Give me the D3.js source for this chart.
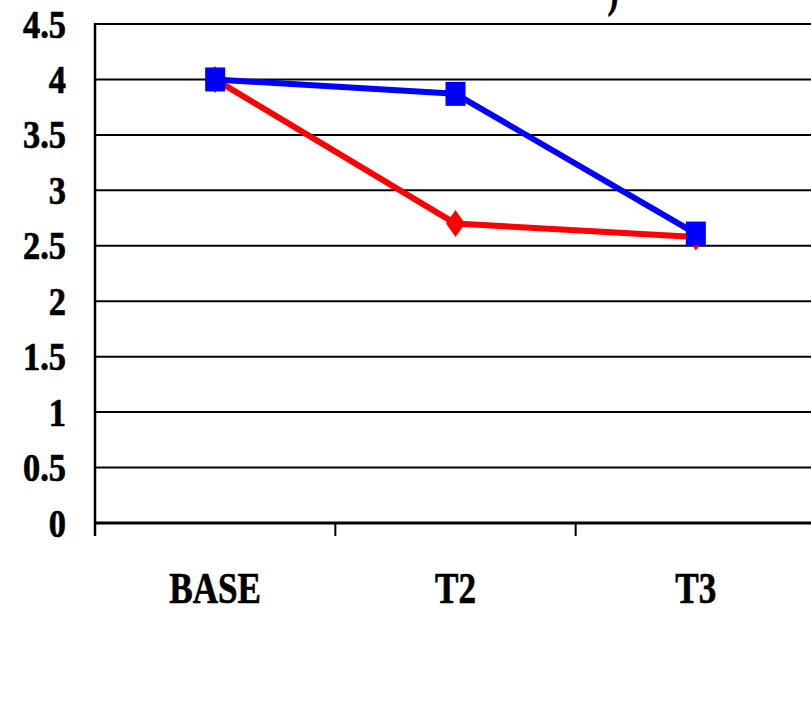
<!DOCTYPE html>
<html>
<head>
<meta charset="utf-8">
<script src="https://cdn.jsdelivr.net/npm/d3@7"></script>
<style>
  html, body { margin: 0; padding: 0; background: #fff; overflow: hidden; }
  svg { display: block; }
  text { font-family: "Liberation Serif", "Times New Roman", serif; font-weight: bold; fill: #000; stroke: #000; stroke-width: 0.7px; }
</style>
</head>
<body>
<svg id="chart" width="811" height="711"></svg>
<script>
// Data
const categories = ["BASE", "T2", "T3"];
const seriesRed = [4.0, 2.70, 2.58];
const seriesBlue = [4.0, 3.87, 2.61];
const yTicks = [0, 0.5, 1, 1.5, 2, 2.5, 3, 3.5, 4, 4.5];
const yTickLabels = ["0", "0.5", "1", "1.5", "2", "2.5", "3", "3.5", "4", "4.5"];

const svg = d3.select("#chart");

const plot = { left: 95, right: 816, top: 24, bottom: 523 };

const y = d3.scaleLinear().domain([0, 4.5]).range([plot.bottom, plot.top]);
const xBand = d3.scaleBand().domain(categories).range([plot.left, plot.right]);
const x = d3.scalePoint().domain(categories).range([plot.left, plot.right]).padding(0.5);

// Horizontal gridlines (the 4.5 line forms the top border)
svg.append("g")
  .selectAll("line")
  .data(yTicks.filter(d => d > 0))
  .join("line")
  .attr("x1", plot.left).attr("x2", plot.right)
  .attr("y1", d => y(d)).attr("y2", d => y(d))
  .attr("stroke", "#000").attr("stroke-width", 2);

// Category axis with tick marks at band edges
const bandEdges = categories.map(c => xBand(c)).concat([plot.right]);
svg.append("line")
  .attr("x1", plot.left).attr("x2", plot.right)
  .attr("y1", y(0)).attr("y2", y(0))
  .attr("stroke", "#000").attr("stroke-width", 3);
svg.append("g")
  .selectAll("line")
  .data(bandEdges)
  .join("line")
  .attr("x1", d => d).attr("x2", d => d)
  .attr("y1", y(0)).attr("y2", y(0) + 13)
  .attr("stroke", "#000").attr("stroke-width", 2);

// Value axis line
svg.append("line")
  .attr("x1", plot.left).attr("x2", plot.left)
  .attr("y1", plot.top - 1).attr("y2", y(0) + 13)
  .attr("stroke", "#000").attr("stroke-width", 2.5);

// Value axis labels (condensed bold serif)
svg.append("g")
  .selectAll("g")
  .data(yTicks)
  .join("g")
  .attr("transform", d => `translate(66,${y(d) + 13.5}) scale(0.86,1)`)
  .append("text")
  .attr("text-anchor", "end")
  .attr("font-size", 40)
  .text((d, i) => yTickLabels[i]);

// Category labels
svg.append("g")
  .selectAll("g")
  .data(categories)
  .join("g")
  .attr("transform", d => `translate(${x(d)},603) scale(0.78,1)`)
  .append("text")
  .attr("text-anchor", "middle")
  .attr("font-size", 45)
  .text(d => d);

// Fragment of the heading above the plot
svg.append("g")
  .attr("transform", "translate(613,7) scale(0.75,1)")
  .append("text")
  .attr("text-anchor", "middle")
  .attr("font-size", 44)
  .text(")");

const line = d3.line()
  .x((d, i) => x(categories[i]))
  .y(d => y(d));

// Red series with diamond markers
svg.append("path")
  .datum(seriesRed)
  .attr("d", line)
  .attr("fill", "none")
  .attr("stroke", "#ff0000")
  .attr("stroke-width", 6)
  .attr("stroke-linejoin", "round");
svg.append("g")
  .selectAll("path")
  .data(seriesRed)
  .join("path")
  .attr("transform", (d, i) => `translate(${x(categories[i])},${y(d)})`)
  .attr("d", "M0,-13.5 L9.5,0 L0,13.5 L-9.5,0 Z")
  .attr("fill", "#ff0000");

// Blue series with square markers
svg.append("path")
  .datum(seriesBlue)
  .attr("d", line)
  .attr("fill", "none")
  .attr("stroke", "#0000ff")
  .attr("stroke-width", 6)
  .attr("stroke-linejoin", "round");
svg.append("g")
  .selectAll("rect")
  .data(seriesBlue)
  .join("rect")
  .attr("x", (d, i) => x(categories[i]) - 10)
  .attr("y", d => y(d) - 12)
  .attr("width", 20)
  .attr("height", 24)
  .attr("fill", "#0000ff");
</script>
</body>
</html>
